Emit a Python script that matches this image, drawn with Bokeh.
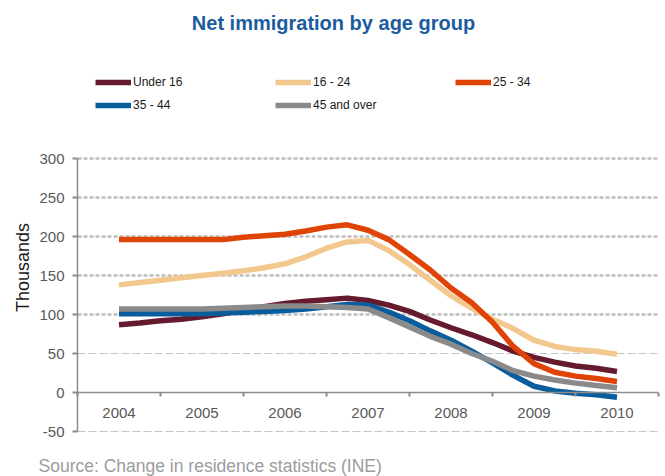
import math

from bokeh.plotting import figure
from bokeh.models import (Range1d, FixedTicker, Legend, LegendItem, Label,
                          LinearAxis)
from bokeh.embed import file_html
from bokeh.resources import INLINE

# Quarterly observations, 2004 Q1 to 2010 Q1 (thousands of people)
t = [2004 + q / 4 for q in range(25)]
year_ticks = [2004, 2005, 2006, 2007, 2008, 2009, 2010]
year_bounds = [2003.5, 2004.5, 2005.5, 2006.5, 2007.5, 2008.5, 2009.5, 2010.5]
value_ticks = [-50, 0, 50, 100, 150, 200, 250, 300]
upper_grid_values = [100, 150, 200, 250, 300]
lower_grid_values = [-50, 50]

under_16 = [87, 89, 92, 94, 97, 101, 106, 110, 114, 117, 119, 121, 118,
            112, 104, 93, 83, 74, 64, 53, 45, 39, 34, 31, 27]
age_16_24 = [138, 141, 144, 147, 150, 153, 156, 160, 165, 174, 185, 193, 195,
             182, 164, 144, 124, 108, 94, 82, 67, 59, 55, 53, 49]
age_25_34 = [196, 196, 196, 196, 196, 196, 199, 201, 203, 207, 212, 215, 208,
             196, 177, 157, 134, 115, 90, 59, 37, 26, 21, 18, 14]
age_35_44 = [101, 101, 101, 101, 101, 102, 103, 104, 105, 107, 110, 113, 112,
             103, 92, 79, 67, 53, 38, 22, 8, 2, -1, -3, -6]
age_45_over = [107, 107, 107, 107, 107, 108, 109, 110, 111, 111, 110, 109, 107,
               96, 84, 72, 62, 50, 40, 28, 21, 16, 12, 9, 6]

series_names = ["Under 16", "16 - 24", "25 - 34", "35 - 44", "45 and over"]
series_values = [under_16, age_16_24, age_25_34, age_35_44, age_45_over]
series_colors = ["#661a2e", "#f2c88e", "#e04306", "#0a5d9c", "#8a8a8a"]

FONT = "Liberation Sans"
AXIS_GREY = "#8c8c8c"

W, H = 665, 476
# plot area in canvas pixels: left, right, top, bottom
PL, PR, PT, PB = 77, 658, 158, 431
X0, X1 = 2003.5, 2010.5
Y0, Y1 = -50, 300
xs = (X1 - X0) / (PR - PL)
ys = (Y1 - Y0) / (PB - PT)

# The frame fills the canvas; axes sit at fixed data positions inside it so
# the headline, legend and source note can share the same drawing surface.
p = figure(width=W, height=H,
           x_range=Range1d(X0 - PL * xs, X1 + (W - PR) * xs),
           y_range=Range1d(Y0 - (H - PB) * ys, Y1 + PT * ys),
           x_axis_type=None, y_axis_type=None,
           output_backend="svg", toolbar_location=None,
           min_border=0)
p.title.visible = False
p.outline_line_color = None
p.background_fill_color = "white"
p.border_fill_color = "white"
p.xgrid.visible = False
p.ygrid.visible = False

# Horizontal reference lines across the plot area only
p.segment(x0=[X0] * len(upper_grid_values), y0=upper_grid_values,
          x1=[X1] * len(upper_grid_values), y1=upper_grid_values,
          line_color="#bdbdbd", line_width=2.5, line_dash="4 2")
p.segment(x0=[X0] * len(lower_grid_values), y0=lower_grid_values,
          x1=[X1] * len(lower_grid_values), y1=lower_grid_values,
          line_color="#c6c6c6", line_width=1, line_dash="8 3")

# Value axis
yax = LinearAxis(fixed_location=X0, bounds=(Y0, Y1),
                 ticker=FixedTicker(ticks=value_ticks),
                 major_label_overrides={-50: "-50"})
yax.axis_line_color = AXIS_GREY
yax.axis_line_width = 1.5
yax.major_tick_out = 5
yax.major_tick_in = 0
yax.minor_tick_out = 0
yax.minor_tick_in = 0
yax.major_tick_line_color = AXIS_GREY
yax.major_tick_line_width = 2
yax.major_label_standoff = 8
yax.major_label_text_font = FONT
yax.major_label_text_font_size = "15px"
yax.major_label_text_color = "#595959"
p.add_layout(yax, "left")

# Year axis drawn along the zero line
xax = LinearAxis(fixed_location=0, bounds=(X0, X1),
                 ticker=FixedTicker(ticks=year_ticks, minor_ticks=year_bounds))
xax.axis_line_color = AXIS_GREY
xax.axis_line_width = 1.5
xax.major_tick_out = 0
xax.major_tick_in = 0
xax.minor_tick_out = 4
xax.minor_tick_in = 0
xax.minor_tick_line_color = AXIS_GREY
xax.minor_tick_line_width = 2
xax.major_label_standoff = 11
xax.major_label_text_font = FONT
xax.major_label_text_font_size = "15px"
xax.major_label_text_color = "#595959"
p.add_layout(xax, "below")

items = []
for name, vals, color in zip(series_names, series_values, series_colors):
    r = p.line(t, vals, line_color=color, line_width=5.5, line_join="round")
    items.append(LegendItem(label=name, renderers=[r]))

legend = Legend(items=items, orientation="horizontal", ncols=3,
                location=(95, H - 115),
                padding=0, margin=0, spacing=3,
                glyph_width=36, glyph_height=20, label_height=20,
                label_width=139, label_standoff=2,
                label_text_font=FONT, label_text_font_size="12px",
                label_text_color="#1a1a1a",
                border_line_color=None, background_fill_alpha=0)
p.add_layout(legend)

p.add_layout(Label(x=333, y=H - 22, x_units="screen", y_units="screen",
                   text="Net immigration by age group",
                   text_align="center", text_baseline="middle",
                   text_font=FONT, text_font_style="bold",
                   text_font_size="20px", text_color="#1b5c9e"))
p.add_layout(Label(x=22, y=H - 267, x_units="screen", y_units="screen",
                   text="Thousands", angle=math.pi / 2,
                   text_align="center", text_baseline="middle",
                   text_font=FONT, text_font_size="18px", text_color="#1a1a1a"))
p.add_layout(Label(x=38, y=H - 465, x_units="screen", y_units="screen",
                   text="Source: Change in residence statistics (INE)",
                   text_align="left", text_baseline="middle",
                   text_font=FONT, text_font_size="17.5px", text_color="#9c9c9c"))

open("out.html", "w").write(file_html(p, INLINE))
